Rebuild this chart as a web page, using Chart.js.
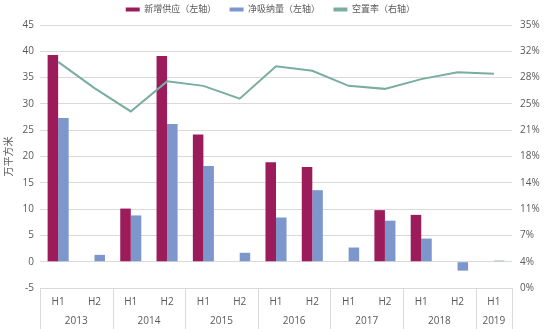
<!DOCTYPE html>
<html>
<head>
<meta charset="utf-8">
<script src="https://cdn.jsdelivr.net/npm/chart.js"></script>
<style>
  html, body { margin: 0; padding: 0; background: #fff; }
  #wrap { width: 550px; height: 329px; }
</style>
</head>
<body>
<div id="wrap"><canvas id="officeChart"></canvas></div>
<script>
// Datos
const halves = ['H1', 'H2', 'H1', 'H2', 'H1', 'H2', 'H1', 'H2', 'H1', 'H2', 'H1', 'H2', 'H1'];
const years = ['2013', '2014', '2015', '2016', '2017', '2018', '2019'];
const yearSpans = [2, 2, 2, 2, 2, 2, 1];
const newSupply = [39.3, null, 10.1, 39.1, 24.2, null, 18.9, 18.0, null, 9.8, 8.9, null, null];
const netAbsorption = [27.3, 1.3, 8.8, 26.2, 18.2, 1.7, 8.4, 13.6, 2.7, 7.8, 4.4, -1.7, 0.2];
const vacancyRate = [30.1, 26.6, 23.5, 27.5, 26.9, 25.2, 29.5, 28.9, 26.9, 26.5, 27.8, 28.7, 28.5];
const leftTicks = { min: -5, max: 45, step: 5 };
const rightTicks = { min: 0, max: 35, step: 3.5 };

const textColor = '#595959';
const gridColor = '#D9D9D9';

Chart.defaults.font.family = "'Open Sans', 'Noto Sans CJK SC', sans-serif";
Chart.defaults.color = textColor;

// Altura fija para la leyenda
const legendSpace = {
    id: 'legendSpace',
    beforeInit(chart) {
        const fit = chart.legend.fit;
        chart.legend.fit = function() {
            fit.bind(chart.legend)();
            this.height = 24;
        };
    }
};

// Dibuja los recuadros de años debajo del eje X
const yearBoxes = {
    id: 'yearBoxes',
    afterDraw(chart) {
        const ctx = chart.ctx;
        const x = chart.scales.x;
        const area = chart.chartArea;
        const half = (x.getPixelForValue(1) - x.getPixelForValue(0)) / 2;
        const bottom = chart.height;
        ctx.save();
        ctx.strokeStyle = gridColor;
        ctx.lineWidth = 1;
        ctx.fillStyle = textColor;
        ctx.font = "10px 'Open Sans', sans-serif";
        ctx.textAlign = 'center';
        ctx.textBaseline = 'middle';
        let idx = 0;
        years.forEach(function(y, i) {
            const left = x.getPixelForValue(idx) - half;
            const right = x.getPixelForValue(idx + yearSpans[i] - 1) + half;
            ctx.beginPath();
            ctx.moveTo(Math.round(left) + 0.5, area.bottom);
            ctx.lineTo(Math.round(left) + 0.5, bottom);
            if (i === years.length - 1) {
                ctx.moveTo(Math.round(right) + 0.5, area.bottom);
                ctx.lineTo(Math.round(right) + 0.5, bottom);
            }
            ctx.stroke();
            ctx.fillText(y, (left + right) / 2, area.bottom + 33);
            idx += yearSpans[i];
        });
        ctx.restore();
    }
};

new Chart(document.getElementById('officeChart'), {
    type: 'bar',
    data: {
        labels: halves,
        datasets: [
            {
                label: '新增供应（左轴）',
                data: newSupply,
                backgroundColor: '#9C1C5B',
                yAxisID: 'y',
                categoryPercentage: 0.58,
                barPercentage: 1.0,
                order: 2
            },
            {
                label: '净吸纳量（左轴）',
                data: netAbsorption,
                backgroundColor: '#7D97CD',
                yAxisID: 'y',
                categoryPercentage: 0.58,
                barPercentage: 1.0,
                order: 2
            },
            {
                type: 'line',
                label: '空置率（右轴）',
                data: vacancyRate,
                borderColor: '#78ADA0',
                backgroundColor: '#78ADA0',
                borderWidth: 2,
                pointRadius: 0,
                tension: 0,
                yAxisID: 'y1',
                order: 1
            }
        ]
    },
    options: {
        responsive: true,
        maintainAspectRatio: false,
        animation: false,
        layout: { padding: { top: 1, left: 0, right: 0, bottom: 0 } },
        plugins: {
            legend: {
                display: true,
                position: 'top',
                align: 'center',
                labels: {
                    boxWidth: 14,
                    boxHeight: 4,
                    padding: 4,
                    color: textColor,
                    font: { size: 9 },
                    sort: function(a, b) { return a.datasetIndex - b.datasetIndex; },
                    generateLabels: function(chart) {
                        const items = Chart.defaults.plugins.legend.labels.generateLabels(chart);
                        items.forEach(function(it) {
                            it.text = it.text + '    ';
                            if (it.datasetIndex === 2) {
                                it.lineWidth = 0;
                                it.fillStyle = '#78ADA0';
                            }
                        });
                        return items;
                    }
                }
            },
            tooltip: { enabled: false }
        },
        scales: {
            x: {
                grid: { display: false, drawTicks: false },
                border: { display: false },
                ticks: { color: textColor, font: { size: 10 }, padding: 8, maxRotation: 0 },
                afterFit: function(s) { s.height = 41; }
            },
            y: {
                position: 'left',
                min: leftTicks.min,
                max: leftTicks.max,
                ticks: { stepSize: leftTicks.step, color: textColor, font: { size: 10 }, padding: 6 },
                grid: { color: gridColor, drawTicks: false },
                border: { display: false },
                title: { display: true, text: '万平方米', color: textColor, font: { size: 10 }, padding: { top: 3, bottom: 0 } },
                afterFit: function(s) { s.width = 40; }
            },
            y1: {
                position: 'right',
                min: rightTicks.min,
                max: rightTicks.max,
                ticks: {
                    stepSize: rightTicks.step,
                    color: textColor,
                    font: { size: 10 },
                    padding: 8,
                    callback: function(v) { return Math.round(v) + '%'; }
                },
                grid: { display: false, drawTicks: false },
                border: { display: false },
                afterFit: function(s) { s.width = 38; }
            }
        }
    },
    plugins: [legendSpace, yearBoxes]
});
</script>
</body>
</html>
